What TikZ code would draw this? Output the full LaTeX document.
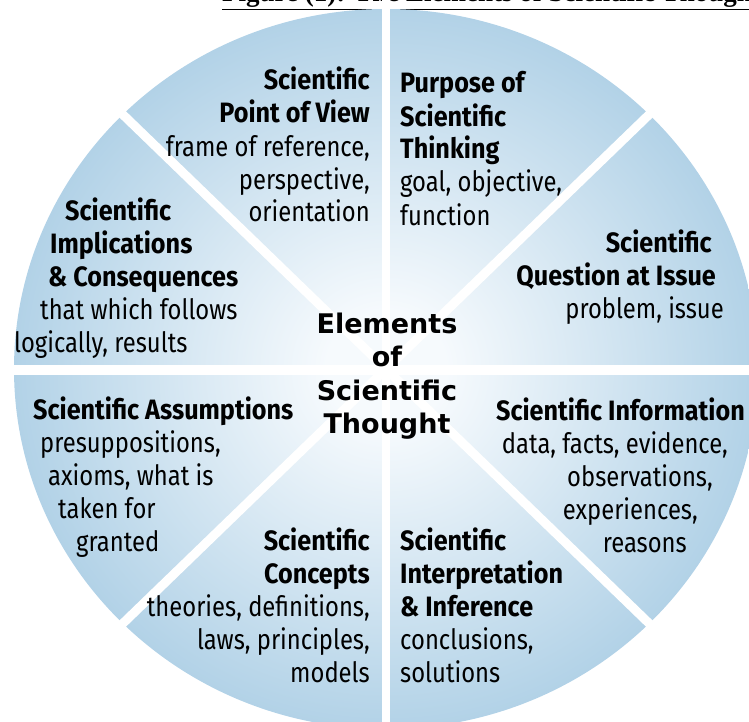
\documentclass[tikz,border=0pt]{standalone}
\usepackage{fontspec}
\setmainfont{Liberation Serif}
\newfontfamily\wedgefont[UprightFeatures={FakeStretch=0.85}, BoldFeatures={FakeStretch=0.9}]{Fira Sans}
\newfontfamily\hubfont{DejaVu Sans}

\definecolor{wheeledge}{RGB}{178,210,231}
\definecolor{wheelcore}{RGB}{246,250,253}
\pgfdeclareradialshading{wheelshade}{\pgfpoint{0bp}{0bp}}{%
  color(0bp)=(wheelcore); color(4bp)=(wheelcore); color(25bp)=(wheeledge); color(50bp)=(wheeledge)}

% fixed gap at the end of a right-aligned line
\newcommand{\tailgap}[1]{\hbox to #1{}}

\tikzset{
  elem/.style={font=\wedgefont\fontsize{28}{33}\selectfont, inner sep=0pt},
  divider/.style={white, line width=9pt},
}

\begin{document}
\begin{tikzpicture}[x=1pt, y=-1pt]
    \useasboundingbox (0,0) rectangle (749,722);
    \clip (0,0) rectangle (749,722);

    % Caption (cut off by the frame)
    \node [anchor=base west, inner sep=0pt, font=\bfseries\fontsize{27}{30}\selectfont] (caption) at (222,2)
        {\underline{Figure (1): The Elements of Scientific Thought}};

    % The wheel
    \coordinate (hub) at (386,369);
    \shade [shading=wheelshade] (hub) ellipse [x radius=372, y radius=360];

    % White gaps between the eight wedges
    \coordinate (n) at (386,0);
    \coordinate (s) at (386,740);
    \coordinate (w) at (0,370);
    \coordinate (e) at (770,370);
    \coordinate (nw) at (114,106);
    \coordinate (se) at (658,632);
    \coordinate (ne) at (658,106);
    \coordinate (sw) at (114,632);
    \draw [divider, line width=8pt] (n) -- (s);
    \draw [divider, line width=10pt] (w) -- (e);
    \draw [divider] (nw) -- (se);
    \draw [divider] (ne) -- (sw);

    % Centre
    \node [align=center, font=\hubfont\bfseries\fontsize{27}{33.5}\selectfont] (title) at (387,376)
        {Elements\\of\\Scientific\\Thought};

    % Wedge texts, clockwise from the top (anchored on the last line)
    \node [elem, anchor=base west, align=left] (purpose) at (400,225)
        {\textbf{Purpose of}\\\textbf{Scientific}\\\textbf{Thinking}\\goal, objective,\\function};
    \node [elem, anchor=base east, align=right] (question) at (724,318)
        {\textbf{Scientific}\tailgap{12pt}\\\textbf{Question at Issue}\tailgap{8pt}\\problem, issue};
    \node [elem, anchor=base east, align=right] (information) at (745,552)
        {\textbf{Scientific Information}\\data, facts, evidence,\tailgap{17pt}\\observations,\tailgap{32pt}\\experiences,\tailgap{47pt}\\reasons\tailgap{58pt}};
    \node [elem, anchor=base west, align=left] (inference) at (400,682)
        {\textbf{Scientific}\\\textbf{Interpretation}\\\textbf{\& Inference}\\conclusions,\\solutions};
    \node [elem, anchor=base east, align=right] (concepts) at (370,682)
        {\textbf{Scientific}\\\textbf{Concepts}\\theories, definitions,\\laws, principles,\\models};
    \node [elem, anchor=base west, align=left] (assumptions) at (33,551)
        {\textbf{Scientific Assumptions}\\\hspace*{7pt}presuppositions,\\\hspace*{15pt}axioms, what is\\\hspace*{25pt}taken for\\\hspace*{43pt}granted};
    \node [elem, anchor=base west, align=left] (implications) at (14,352)
        {\hspace*{51pt}\textbf{Scientific}\\\hspace*{36pt}\textbf{Implications}\\\hspace*{34pt}\textbf{\& Consequences}\\\hspace*{26pt}that which follows\\logically, results};
    \node [elem, anchor=base east, align=right] (viewpoint) at (370,222)
        {\textbf{Scientific}\\\textbf{Point of View}\\frame of reference,\\perspective,\\orientation};

\end{tikzpicture}
\end{document}
